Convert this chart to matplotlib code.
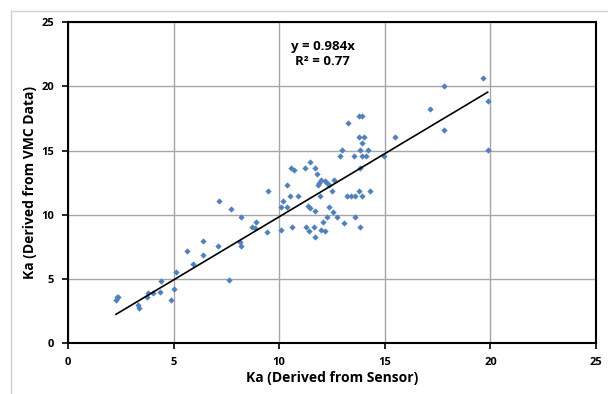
import matplotlib
matplotlib.use("Agg")
import matplotlib.pyplot as plt
from matplotlib.lines import Line2D
import numpy as np

plt.rcParams['font.family'] = ['Open Sans', 'DejaVu Sans']

# values
sensor_ka = [2.30, 2.27, 2.38, 3.33, 3.36, 3.72, 3.80, 4.04, 4.35, 4.38,
             4.90, 5.03, 5.12, 5.62, 5.93, 6.37, 6.37, 7.08, 7.16, 7.63,
             7.72, 8.20, 8.13, 8.21, 8.71, 8.84, 8.92, 9.42, 9.47,
             10.07, 10.18, 10.37, 10.07, 10.37, 10.50, 10.60, 10.58, 10.70, 10.87,
             11.21, 11.45, 11.68, 11.80, 11.88, 12.00, 12.15, 12.26, 12.36, 12.59,
             11.84, 12.52, 11.91, 11.36, 11.47, 11.68, 12.34, 12.55, 12.75, 12.28,
             12.07, 13.05, 13.21, 13.38, 13.60, 13.93, 13.76, 14.31, 13.57, 13.81,
             11.25, 11.63, 11.41, 11.96, 12.15, 11.68,
             12.86, 12.99, 13.25, 13.52, 13.76, 13.93, 13.76, 14.00, 13.93, 13.84,
             14.20, 13.93, 14.09, 13.84, 14.96, 15.46,
             17.16, 17.79, 19.64, 19.87, 17.79, 19.87]
vmc_ka = [3.62, 3.36, 3.57, 2.97, 2.76, 3.62, 3.93, 3.93, 3.96, 4.87,
          3.36, 4.24, 5.55, 7.21, 6.17, 7.97, 6.88, 7.58, 11.04, 4.92,
          10.44, 9.82, 7.84, 7.58, 9.01, 8.96, 9.40, 8.67, 11.82,
          10.60, 11.04, 10.60, 8.77, 12.34, 11.43, 9.04, 13.65, 13.46, 11.45,
          13.65, 14.12, 13.65, 13.20, 12.48, 12.73, 12.60, 12.48, 12.29, 12.73,
          12.29, 11.82, 11.43, 10.65, 10.52, 10.32, 10.60, 10.24, 9.82, 9.82,
          9.42, 9.35, 11.43, 11.43, 11.43, 11.43, 11.85, 11.85, 9.82, 9.04,
          9.04, 9.04, 8.70, 8.83, 8.70, 8.28,
          14.55, 15.08, 17.16, 14.55, 17.68, 17.68, 16.07, 16.07, 15.60, 15.08,
          15.08, 14.55, 14.55, 13.65, 14.55, 16.07,
          18.26, 20.02, 20.68, 18.85, 16.59, 15.08]
slope = 0.984
r2 = 0.77
ticks = [0, 5, 10, 15, 20, 25]

fig = plt.figure(figsize=(6.08, 3.94), dpi=100)
# chart frame: only its top and left edges fall inside the picture
bx, by = 10.5 / 608, 1 - 10.5 / 394
fig.lines.append(Line2D([bx, 1], [by, by], transform=fig.transFigure,
                        color='#D0D0D0', linewidth=1.0))
fig.lines.append(Line2D([bx, bx], [0, by], transform=fig.transFigure,
                        color='#D0D0D0', linewidth=1.0))

ax = fig.add_axes([68 / 608, 51 / 394, 528 / 608, 320.7 / 394])
ax.plot(sensor_ka, vmc_ka, 'D', color='#4F81BD', markersize=3.2,
        markeredgewidth=0, zorder=3)

x = np.array(sensor_ka)
xl = np.array([x.min(), x.max()])
ax.plot(xl, slope * xl, color='black', linewidth=1.2, zorder=4)

ax.set_xlim(0, 25)
ax.set_ylim(0, 25)
ax.set_xticks(ticks)
ax.set_yticks(ticks)
ax.grid(True, color='#A6A6A6', linewidth=1.0)
ax.set_axisbelow(True)
for s in ax.spines.values():
    s.set_color('black')
    s.set_linewidth(1.5)
ax.tick_params(direction='out', length=4, width=1.2, color='black',
               labelsize=8, pad=6)
for lab in ax.get_xticklabels() + ax.get_yticklabels():
    lab.set_fontweight('bold')

ax.set_xlabel('Ka (Derived from Sensor)', fontsize=10, fontweight='bold',
              labelpad=2)
ax.set_ylabel('Ka (Derived from VMC Data)', fontsize=10, fontweight='bold',
              labelpad=3)

ax.text(0.482, 0.945, 'y = %.3fx\nR² = %.2f' % (slope, r2), transform=ax.transAxes,
        ha='center', va='top', fontsize=9.5, fontweight='bold',
        linespacing=1.25, multialignment='center')

fig.savefig('out.png', dpi=100)
